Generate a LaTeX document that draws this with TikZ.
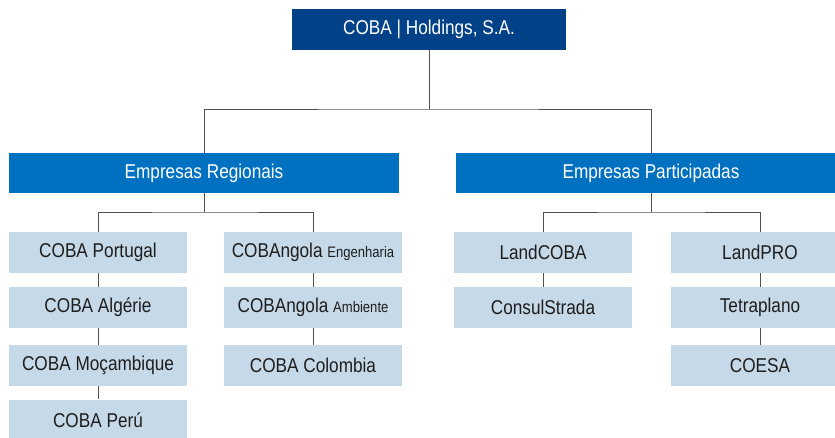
\documentclass[tikz,border=0pt]{standalone}
\usepackage{fontspec}
\setmainfont{Liberation Sans}[FakeStretch=0.86]
\definecolor{cobanavy}{RGB}{0,65,135}
\definecolor{cobablue}{RGB}{0,112,192}
\definecolor{cobalight}{RGB}{197,217,232}
\definecolor{cobatext}{RGB}{30,30,30}
\definecolor{linegray}{RGB}{80,80,80}
\tikzset{
    holding/.style={fill=cobanavy, text=white, minimum width=205.5pt, minimum height=30.75pt, inner sep=0pt, font=\fontsize{15}{18}\selectfont},
    group/.style={fill=cobablue, text=white, minimum width=292.5pt, minimum height=30pt, inner sep=0pt, font=\fontsize{15}{18}\selectfont},
    firm/.style={fill=cobalight, text=cobatext, minimum width=133.5pt, minimum height=30.5pt, inner sep=0pt, font=\fontsize{15}{18}\selectfont},
    link/.style={draw=linegray, line width=0.75pt}
}
\newcommand{\subname}[1]{{\fontsize{11.4}{13}\selectfont #1}}

\begin{document}
\begin{tikzpicture}[x=0.75pt,y=0.75pt,yscale=-1,xscale=1]
    \clip (0,0) rectangle (835,437);

    % Holding
    \node [holding] (holding) at (429,29.5) {COBA | Holdings, S.A.};
    % Groups
    \node [group] (regional) at (204,173) {Empresas Regionais};
    \node [group] (participadas) at (651,173) {Empresas Participadas};

    % Regional companies, left column
    \node [firm] (portugal) at (98,252.5) {COBA Portugal};
    \node [firm] (algerie) at (98,307.5) {COBA Algérie};
    \node [firm] (mocambique) at (98,365.5) {COBA Moçambique};
    \node [firm] (peru) at (98,420) {COBA Perú};
    % Regional companies, right column
    \node [firm] (angolaeng) at (313,252.5) {COBAngola \subname{Engenharia}};
    \node [firm] (angolaamb) at (313,307.5) {COBAngola \subname{Ambiente}};
    \node [firm] (colombia) at (313,365.5) {COBA Colombia};

    % Participated companies
    \node [firm] (landcoba) at (543,252.5) {LandCOBA};
    \node [firm] (consulstrada) at (543,307.5) {ConsulStrada};
    \node [firm] (landpro) at (760,252.5) {LandPRO};
    \node [firm] (tetraplano) at (760,307.5) {Tetraplano};
    \node [firm] (coesa) at (760,365.5) {COESA};

    % Branch points
    \coordinate (hsplit) at (429,109);
    \coordinate (rsplit) at (204,212);
    \coordinate (psplit) at (651,212);

    % Holding to groups
    \draw [link] (holding.south) -- (hsplit);
    \draw [link] (regional.north) |- (hsplit) -| (participadas.north);
    % Groups to first companies
    \draw [link] (regional.south) -- (rsplit);
    \draw [link] (portugal.north) |- (rsplit) -| (angolaeng.north);
    \draw [link] (participadas.south) -- (psplit);
    \draw [link] (landcoba.north) |- (psplit) -| (landpro.north);
    % Columns
    \draw [link] (portugal) -- (algerie);
    \draw [link] (algerie) -- (mocambique);
    \draw [link] (mocambique) -- (peru);
    \draw [link] (angolaeng) -- (angolaamb);
    \draw [link] (angolaamb) -- (colombia);
    \draw [link] (landcoba) -- (consulstrada);
    \draw [link] (landpro) -- (tetraplano);
    \draw [link] (tetraplano) -- (coesa);
\end{tikzpicture}
\end{document}
